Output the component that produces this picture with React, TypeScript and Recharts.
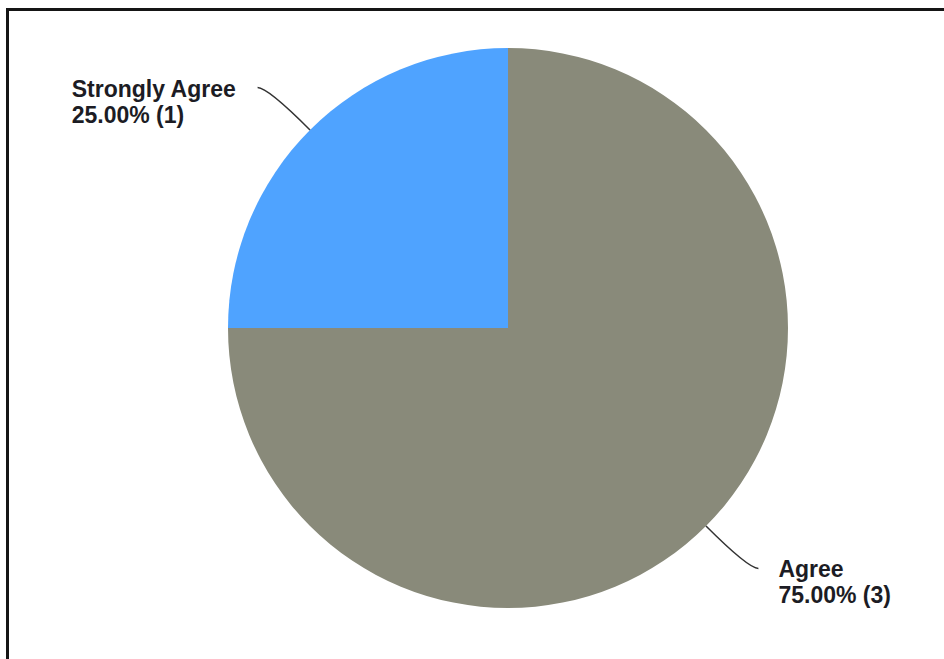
import { PieChart, Pie, Cell } from 'recharts';

// 回答分布
const answers = ['Strongly Agree', 'Agree'];
const counts = [1, 3];
const colors = ['#4fa3ff', '#898a7a'];

const data = answers.map((name, i) => ({ name, value: counts[i] }));

const RADIAN = Math.PI / 180;
const FONT = '"Liberation Sans", Arial, sans-serif';
const FONT_SIZE = 23;

// 量文字宽度，左侧标签要左对齐
let ctx = null;
function textWidth(s) {
  if (!ctx) {
    ctx = document.createElement('canvas').getContext('2d');
  }
  ctx.font = `bold ${FONT_SIZE}px ${FONT}`;
  return ctx.measureText(s).width;
}

// 引线端点
function leaderPoints(cx, cy, midAngle, outerRadius) {
  const cos = Math.cos(-midAngle * RADIAN);
  const sin = Math.sin(-midAngle * RADIAN);
  const p0 = { x: cx + outerRadius * cos, y: cy + outerRadius * sin };
  const p1 = { x: cx + (outerRadius + 60) * cos, y: cy + (outerRadius + 60) * sin };
  const p2 = { x: p1.x + (cos >= 0 ? 10 : -10), y: p1.y };
  return { p0, p1, p2, right: cos >= 0 };
}

function renderLabelLine(props) {
  const { cx, cy, midAngle, outerRadius } = props;
  const { p0, p1, p2 } = leaderPoints(cx, cy, midAngle, outerRadius);
  return (
    <path
      d={`M${p0.x},${p0.y} Q${p1.x},${p1.y} ${p2.x},${p2.y}`}
      stroke="#333"
      strokeWidth={1.5}
      fill="none"
    />
  );
}

function renderLabel(props) {
  const { cx, cy, midAngle, outerRadius, percent, value, name } = props;
  const { p2, right } = leaderPoints(cx, cy, midAngle, outerRadius);
  const line2 = `${(percent * 100).toFixed(2)}% (${value})`;
  const w = Math.max(textWidth(name), textWidth(line2));
  const x = right ? p2.x + 20 : p2.x - 21 - w;
  return (
    <text
      x={x}
      y={p2.y + 9}
      textAnchor="start"
      fill="#1c1c24"
      fontFamily={FONT}
      fontWeight="bold"
      fontSize={FONT_SIZE}
    >
      <tspan x={x}>{name}</tspan>
      <tspan x={x} dy={26}>{line2}</tspan>
    </text>
  );
}

export default function App() {
  return (
    <div style={{ position: 'fixed', left: 0, top: 0, width: 944, height: 659, overflow: 'hidden', background: '#fff' }}>
      <div
        style={{
          position: 'absolute',
          left: 6,
          top: 8,
          width: 1000,
          height: 1000,
          border: '3px solid #151515',
        }}
      />
      <div style={{ position: 'absolute', left: 0, top: 0 }}>
        <PieChart width={944} height={659} margin={{ top: 0, right: 0, bottom: 0, left: 0 }}>
          <Pie
            data={data}
            dataKey="value"
            nameKey="name"
            cx={508}
            cy={328}
            outerRadius={280}
            startAngle={90}
            endAngle={450}
            stroke="none"
            label={renderLabel}
            labelLine={renderLabelLine}
            isAnimationActive={false}
          >
            {data.map((d, i) => (
              <Cell key={d.name} fill={colors[i]} />
            ))}
          </Pie>
        </PieChart>
      </div>
    </div>
  );
}
